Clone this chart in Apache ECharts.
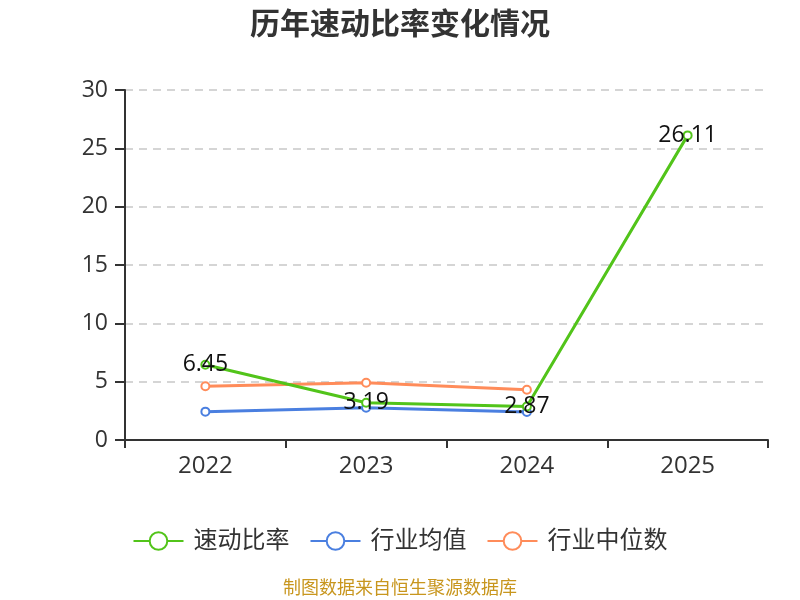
<!DOCTYPE html>
<html><head><meta charset="utf-8">
<script src="https://cdn.jsdelivr.net/npm/echarts@6/dist/echarts.min.js"></script>
<style>html,body{margin:0;padding:0;background:#fff}#c{width:800px;height:600px}</style>
</head><body><div id="c"></div>
<script>
const categories = ['2022', '2023', '2024', '2025'];
const quickRatio = [6.45, 3.19, 2.87, 26.11];
const industryAvg = [2.43, 2.77, 2.4, null];
const industryMedian = [4.6, 4.91, 4.31, null];
const yTicks = [0, 5, 10, 15, 20, 25, 30];

const font = '"Open Sans", "Noto Sans CJK SC", sans-serif';
const chart = echarts.init(document.getElementById('c'));
function s(name, data, color, label) {
  return {
    name, type: 'line', data, symbol: 'emptyCircle', symbolSize: 8,
    lineStyle: { width: 3, color }, itemStyle: { color, borderWidth: 2 },
    label: label ? { show: true, position: 'inside', color: '#111', fontSize: 23, fontFamily: font } : { show: false },
    z: label ? 3 : 2
  };
}
chart.setOption({
  animation: false,
  title: { text: '历年速动比率变化情况', left: 'center', top: 5,
    textStyle: { fontSize: 30, fontWeight: 'bold', color: '#333', fontFamily: font } },
  grid: { left: 125, right: 32, top: 90, bottom: 160 },
  legend: { top: 524, itemGap: 20, itemWidth: 50, itemHeight: 22,
    textStyle: { fontSize: 24, color: '#333', fontFamily: font, padding: [0, 0, 0, 5] },
    data: ['速动比率', '行业均值', '行业中位数'] },
  graphic: [{ type: 'text', left: 'center', top: 580,
    style: { text: '制图数据来自恒生聚源数据库', fill: '#c8961e', fontSize: 18, fontFamily: font } }],
  xAxis: { type: 'category', data: categories, boundaryGap: true,
    axisLine: { lineStyle: { color: '#333', width: 2 } },
    axisTick: { show: true, length: 8, lineStyle: { color: '#333', width: 2 } },
    axisLabel: { fontSize: 24, color: '#333', margin: 14, fontFamily: font } },
  yAxis: { type: 'value', min: yTicks[0], max: yTicks[yTicks.length - 1], interval: 5,
    axisLine: { show: true, lineStyle: { color: '#333', width: 2 } },
    axisTick: { show: true, length: 10, lineStyle: { color: '#333', width: 2 } },
    axisLabel: { fontSize: 23, color: '#333', margin: 17, fontFamily: font },
    splitLine: { lineStyle: { type: [8, 6], color: '#c8c8c8', width: 1.5 } } },
  series: [
    s('速动比率', quickRatio, '#52c41a', true),
    s('行业均值', industryAvg, '#4a7fe0', false),
    s('行业中位数', industryMedian, '#ff8c5a', false)
  ]
});
</script></body></html>
